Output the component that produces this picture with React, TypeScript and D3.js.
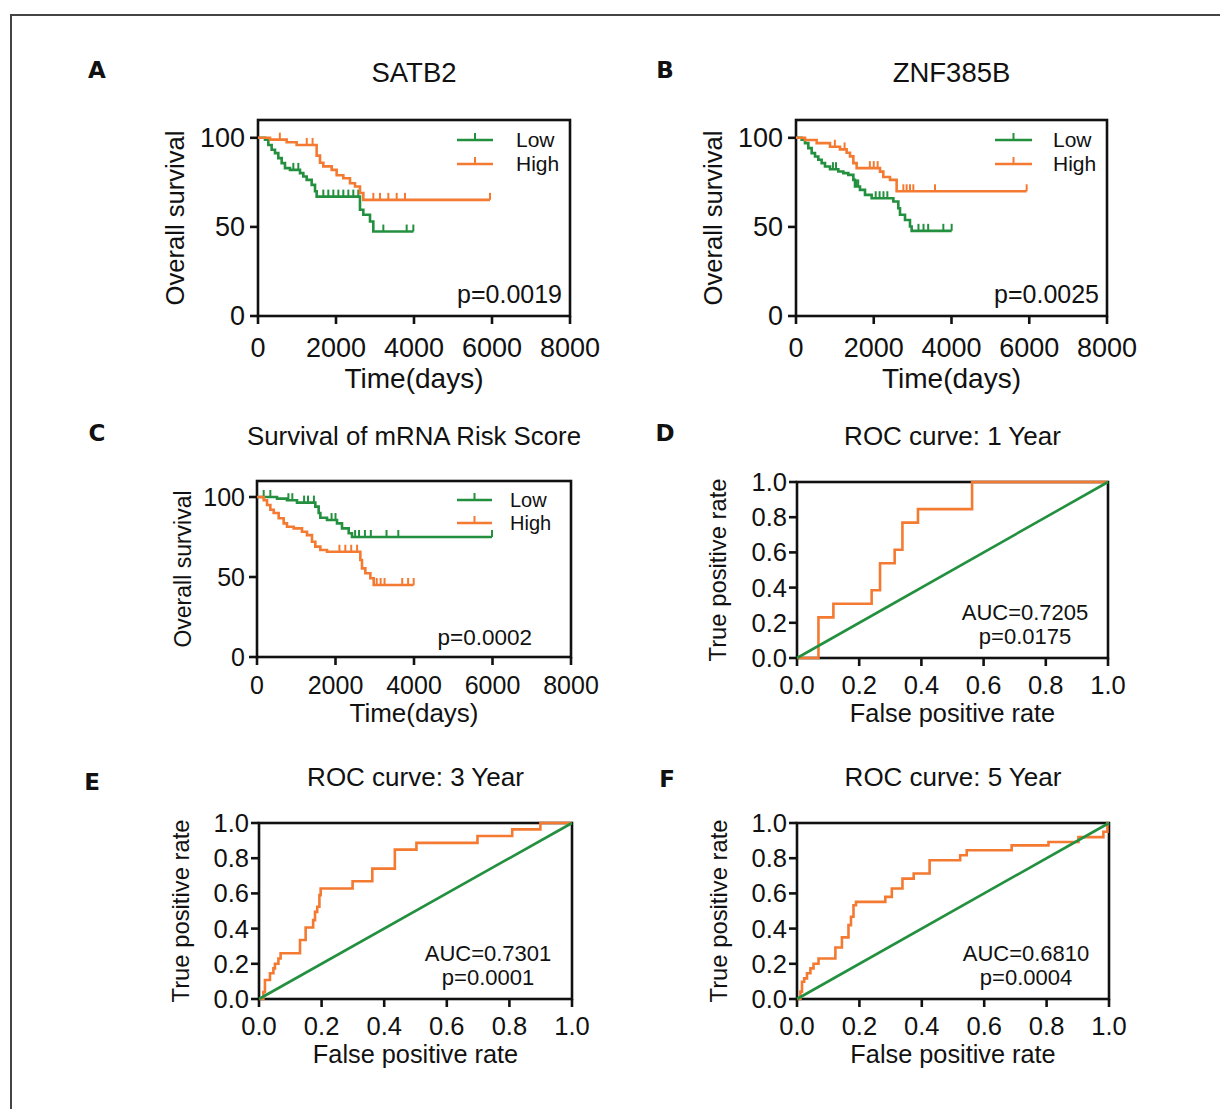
import React from "react";
import * as d3 from "d3";

const GREEN = "#23903f";
const ORANGE = "#f47a32";
const FONT = "'Liberation Sans', Arial, Helvetica, sans-serif";

// ---- Kaplan-Meier data (days, % survival after each drop; censor times) ----
const satb2LowTime = [0, 180, 265, 350, 436, 521, 607, 692, 820, 1077, 1162, 1248, 1376, 1462, 1504, 2615, 2701, 2872, 2957];
const satb2LowSurv = [100, 99, 96, 93.3, 91.4, 88.6, 85.8, 83, 82, 80.2, 78.3, 76.4, 73.6, 70, 67, 59.6, 56.8, 53, 47.4];
const satb2LowCensor = [906, 1034, 1675, 1803, 1932, 2060, 2188, 2316, 2444, 2572, 3214, 3812, 3983];
const satb2HighTime = [0, 308, 735, 991, 1504, 1590, 1675, 1889, 2017, 2188, 2359, 2487, 2615, 2701];
const satb2HighSurv = [100, 99, 97.5, 96, 90, 86, 84, 82, 79, 77.3, 74.5, 72.7, 69, 65.2];
const satb2HighCensor = [560, 1250, 1400, 2957, 3128, 3342, 3556, 3769, 5949];

const znfLowTime = [0, 146, 231, 317, 403, 489, 574, 660, 746, 875, 1089, 1218, 1346, 1475, 1518, 1646, 1775, 1946, 2504, 2632, 2675, 2804, 2932, 2975];
const znfLowSurv = [100, 99, 97, 94.2, 91.4, 89.5, 87.7, 85.8, 83.9, 82.4, 81.1, 80.2, 79.2, 76.4, 72.7, 70.8, 68, 66.1, 64.3, 60.5, 56.8, 53.9, 50.2, 47.8];
const znfLowCensor = [950, 1030, 1560, 1600, 2050, 2150, 2250, 2350, 3150, 3280, 3400, 3790, 4004];
const znfHighTime = [0, 231, 532, 875, 1132, 1303, 1389, 1475, 1560, 2161, 2246, 2418, 2589];
const znfHighSurv = [100, 98.8, 97, 95, 93.5, 91.6, 89.6, 85.8, 83, 81, 78, 76.4, 70];
const znfHighCensor = [1000, 1250, 1900, 2000, 2100, 2761, 2846, 2932, 3018, 3575, 5933];

const riskLowTime = [0, 510, 764, 1019, 1486, 1571, 1614, 1784, 2038, 2166, 2336, 2420];
const riskLowSurv = [100, 99, 98, 96.5, 94, 90, 87, 85.6, 83.5, 80.4, 77.3, 75];
const riskLowCensor = [170, 340, 800, 900, 1200, 1300, 1450, 1900, 2000, 2500, 2600, 2750, 2900, 3300, 3600, 5988];
const riskHighTime = [0, 170, 255, 340, 425, 552, 679, 764, 934, 1147, 1274, 1401, 1486, 1614, 1784, 2633, 2675, 2760, 2888, 2973];
const riskHighSurv = [100, 98, 95, 92, 90, 86.7, 83.5, 81.4, 80.4, 78.3, 76.2, 72, 69, 66.9, 65.8, 60.6, 55.4, 52.3, 49.2, 45];
const riskHighCensor = [2100, 2250, 2400, 2550, 3050, 3150, 3250, 3700, 3850, 3992];

// ---- ROC data (false positive rate, true positive rate) ----
const roc1Fpr = [0, 0.069, 0.117, 0.24, 0.267, 0.314, 0.339, 0.389, 0.563, 1];
const roc1Tpr = [0, 0.231, 0.308, 0.385, 0.538, 0.615, 0.769, 0.846, 1, 1];
const roc3Fpr = [0, 0.014, 0.019, 0.035, 0.046, 0.051, 0.062, 0.069, 0.131, 0.149, 0.173, 0.179, 0.186, 0.193, 0.197, 0.299, 0.362, 0.434, 0.503, 0.698, 0.809, 0.899, 1];
const roc3Tpr = [0, 0.04, 0.108, 0.146, 0.174, 0.2, 0.23, 0.26, 0.335, 0.406, 0.448, 0.495, 0.524, 0.59, 0.628, 0.669, 0.741, 0.849, 0.887, 0.926, 0.964, 1, 1];
const roc5Fpr = [0, 0.011, 0.016, 0.023, 0.032, 0.043, 0.053, 0.069, 0.123, 0.144, 0.165, 0.173, 0.181, 0.189, 0.283, 0.304, 0.338, 0.374, 0.425, 0.523, 0.544, 0.688, 0.806, 0.902, 0.982, 0.995, 1];
const roc5Tpr = [0, 0.042, 0.098, 0.117, 0.146, 0.174, 0.2, 0.23, 0.293, 0.35, 0.42, 0.467, 0.533, 0.552, 0.58, 0.628, 0.684, 0.713, 0.788, 0.817, 0.845, 0.873, 0.892, 0.92, 0.95, 1, 1];

const timeTicks = [0, 2000, 4000, 6000, 8000];
const survTicks = [0, 50, 100];
const rateTicks = [0, 0.2, 0.4, 0.6, 0.8, 1.0];
const legendLabels = ["Low", "High"];

const survAt = (time, surv, t) => surv[Math.max(0, d3.bisectRight(time, t) - 1)];

function Axes({ L, x, y, xTicks, yTicks, fmt, fs }) {
  return (
    <g>
      <rect x={L.left} y={L.top} width={L.right - L.left} height={L.bottom - L.top}
        fill="none" stroke="#111" strokeWidth={2.6} />
      {yTicks.map((t) => (
        <g key={"y" + t}>
          <line x1={L.left - 8} x2={L.left} y1={y(t)} y2={y(t)} stroke="#111" strokeWidth={2.6} />
          <text x={L.left - L.yTickGap} y={y(t)} dy="0.35em" textAnchor="end" fontSize={fs}>{fmt(t)}</text>
        </g>
      ))}
      {xTicks.map((t) => (
        <g key={"x" + t}>
          <line x1={x(t)} x2={x(t)} y1={L.bottom} y2={L.bottom + 8} stroke="#111" strokeWidth={2.6} />
          <text x={x(t)} y={L.xTickY} textAnchor="middle" fontSize={fs}>{fmt(t)}</text>
        </g>
      ))}
    </g>
  );
}

function Labels({ L, title, xLabel, yLabel }) {
  const cx = (L.left + L.right) / 2;
  const cy = (L.top + L.bottom) / 2;
  return (
    <g>
      <text x={L.letterX} y={L.letterY} fontFamily="'DejaVu Sans', sans-serif" fontWeight="bold"
        fontSize={23} textAnchor="middle">{L.letter}</text>
      <text x={cx} y={L.titleY} textAnchor="middle" fontSize={L.titleFs}>{title}</text>
      <text x={cx} y={L.xLabelY} textAnchor="middle" fontSize={L.xLabelFs}>{xLabel}</text>
      <text transform={`translate(${L.yLabelX},${cy}) rotate(-90)`} textAnchor="middle"
        fontSize={L.yLabelFs}>{yLabel}</text>
    </g>
  );
}

function KMPanel({ L, title, series, pText }) {
  const x = d3.scaleLinear().domain([0, 8000]).range([L.left, L.right]);
  const y = d3.scaleLinear().domain([0, 110]).range([L.bottom, L.top]);
  const line = d3.line().x((d) => x(d[0])).y((d) => y(d[1])).curve(d3.curveStepAfter);
  return (
    <g>
      <Axes L={L} x={x} y={y} xTicks={timeTicks} yTicks={survTicks} fmt={(d) => String(d)} fs={L.tickFs} />
      {series.map((s, i) => {
        const end = d3.max(s.censor);
        const pts = s.time.map((t, j) => [t, s.surv[j]]);
        pts.push([end, s.surv[s.surv.length - 1]]);
        return (
          <g key={i}>
            <path d={line(pts)} fill="none" stroke={s.color} strokeWidth={2.6} />
            {s.censor.map((c, j) => (
              <line key={j} x1={x(c)} x2={x(c)} y1={y(survAt(s.time, s.surv, c))}
                y2={y(survAt(s.time, s.surv, c)) - 7} stroke={s.color} strokeWidth={2} />
            ))}
          </g>
        );
      })}
      {series.map((s, i) => (
        <g key={"lg" + i}>
          <line x1={L.legX0} x2={L.legX1} y1={L.legY[i]} y2={L.legY[i]} stroke={s.color} strokeWidth={2.6} />
          <line x1={(L.legX0 + L.legX1) / 2} x2={(L.legX0 + L.legX1) / 2} y1={L.legY[i]} y2={L.legY[i] - 7}
            stroke={s.color} strokeWidth={2} />
          <text x={L.legTextX} y={L.legY[i]} dy="0.35em" fontSize={L.legFs}>{legendLabels[i]}</text>
        </g>
      ))}
      <text x={L.pX} y={L.pY} textAnchor="end" fontSize={L.pFs}>{pText}</text>
      <Labels L={L} title={title} xLabel="Time(days)" yLabel="Overall survival" />
    </g>
  );
}

function ROCPanel({ L, title, fpr, tpr, auc, pText }) {
  const x = d3.scaleLinear().domain([0, 1]).range([L.left, L.right]);
  const y = d3.scaleLinear().domain([0, 1]).range([L.bottom, L.top]);
  const line = d3.line().x((d) => x(d[0])).y((d) => y(d[1])).curve(d3.curveStepAfter);
  const pts = fpr.map((f, i) => [f, tpr[i]]);
  return (
    <g>
      <Axes L={L} x={x} y={y} xTicks={rateTicks} yTicks={rateTicks} fmt={d3.format(".1f")} fs={L.tickFs} />
      <path d={line(pts)} fill="none" stroke={ORANGE} strokeWidth={2.6} />
      <line x1={x(0)} y1={y(0)} x2={x(1)} y2={y(1)} stroke={GREEN} strokeWidth={2.6} />
      <text x={L.aucX} y={L.aucY} textAnchor="middle" fontSize={L.aucFs}>{auc}</text>
      <text x={L.aucX} y={L.aucY + 24} textAnchor="middle" fontSize={L.aucFs}>{pText}</text>
      <Labels L={L} title={title} xLabel="False positive rate" yLabel="True positive rate" />
    </g>
  );
}

const kmTop = {
  top: 120, bottom: 316, tickFs: 27, titleFs: 27.5, xLabelFs: 28, yLabelFs: 25.6,
  legFs: 21, pFs: 25, yTickGap: 13, xTickY: 357, titleY: 82, xLabelY: 388, legY: [140, 164], pY: 303, letterY: 78,
};
const layoutA = { ...kmTop, left: 258, right: 570, yLabelX: 184, legX0: 457, legX1: 493, legTextX: 516, pX: 562, letter: "A", letterX: 97 };
const layoutB = { ...kmTop, left: 796, right: 1107, yLabelX: 722, legX0: 995, legX1: 1032, legTextX: 1053, pX: 1099, letter: "B", letterX: 665 };
const layoutC = {
  left: 257, right: 571, top: 481, bottom: 657, tickFs: 25, titleFs: 25.8, xLabelFs: 26, yLabelFs: 23,
  legFs: 20, pFs: 22.5, yTickGap: 12, xTickY: 694, titleY: 445, xLabelY: 722, yLabelX: 191,
  legX0: 457, legX1: 492, legY: [500, 523], legTextX: 510, pX: 532, pY: 645, letter: "C", letterX: 97, letterY: 441,
};
const rocBase = { tickFs: 25.5, titleFs: 26, xLabelFs: 25.3, yLabelFs: 23.8, aucFs: 22, yTickGap: 10 };
const layoutD = { ...rocBase, left: 797, right: 1108, top: 482, bottom: 658, xTickY: 694, titleY: 445, xLabelY: 722, yLabelX: 726, aucX: 1025, aucY: 620, letter: "D", letterX: 665, letterY: 441 };
const layoutE = { ...rocBase, left: 259, right: 572, top: 823, bottom: 999, xTickY: 1035, titleY: 786, xLabelY: 1063, yLabelX: 189, aucX: 488, aucY: 961, letter: "E", letterX: 92, letterY: 790 };
const layoutF = { ...rocBase, left: 797, right: 1109, top: 823, bottom: 999, xTickY: 1035, titleY: 786, xLabelY: 1063, yLabelX: 727, aucX: 1026, aucY: 961, letter: "F", letterX: 667, letterY: 787 };

export default function App() {
  return (
    <svg width={1220} height={1109} style={{ position: "absolute", left: 0, top: 0, background: "#fff" }}
      fontFamily={FONT} fill="#111">
      <rect x={11} y={15} width={1300} height={1200} fill="none" stroke="#444" strokeWidth={2} />
      <KMPanel L={layoutA} title="SATB2" pText="p=0.0019" series={[
        { time: satb2LowTime, surv: satb2LowSurv, censor: satb2LowCensor, color: GREEN },
        { time: satb2HighTime, surv: satb2HighSurv, censor: satb2HighCensor, color: ORANGE },
      ]} />
      <KMPanel L={layoutB} title="ZNF385B" pText="p=0.0025" series={[
        { time: znfLowTime, surv: znfLowSurv, censor: znfLowCensor, color: GREEN },
        { time: znfHighTime, surv: znfHighSurv, censor: znfHighCensor, color: ORANGE },
      ]} />
      <KMPanel L={layoutC} title="Survival of mRNA Risk Score" pText="p=0.0002" series={[
        { time: riskLowTime, surv: riskLowSurv, censor: riskLowCensor, color: GREEN },
        { time: riskHighTime, surv: riskHighSurv, censor: riskHighCensor, color: ORANGE },
      ]} />
      <ROCPanel L={layoutD} title="ROC curve: 1 Year" fpr={roc1Fpr} tpr={roc1Tpr} auc="AUC=0.7205" pText="p=0.0175" />
      <ROCPanel L={layoutE} title="ROC curve: 3 Year" fpr={roc3Fpr} tpr={roc3Tpr} auc="AUC=0.7301" pText="p=0.0001" />
      <ROCPanel L={layoutF} title="ROC curve: 5 Year" fpr={roc5Fpr} tpr={roc5Tpr} auc="AUC=0.6810" pText="p=0.0004" />
    </svg>
  );
}
